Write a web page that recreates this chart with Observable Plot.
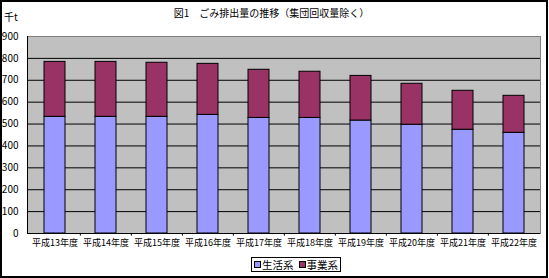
<!DOCTYPE html>
<html>
<head>
<meta charset="utf-8">
<script src="https://cdn.jsdelivr.net/npm/d3@7"></script>
<script src="https://cdn.jsdelivr.net/npm/@observablehq/plot@0.6"></script>
<style>
  html, body { margin: 0; padding: 0; background: #fff; }
  #wrap { position: relative; width: 549px; height: 278px; overflow: hidden; font-family: "Noto Sans CJK JP", "Noto Sans", sans-serif; }
  #border { position: absolute; left: 0; top: 0; width: 548px; height: 278px; box-sizing: border-box; border: 2px solid #000; pointer-events: none; }
  #title { position: absolute; left: 0; width: 543px; top: 5px; text-align: center; font-size: 10px; color: #000; }
  #unit { position: absolute; left: 4px; top: 9px; font-size: 10px; color: #000; }
  #legend { position: absolute; left: 251px; top: 257px; width: 90px; height: 15px; box-sizing: border-box; border: 1px solid #000; background: #fff; font-size: 10.5px; line-height: 13px; display: flex; align-items: center; padding-left: 2px; white-space: nowrap; }
  .sw { display: inline-block; width: 5px; height: 5px; border: 1px solid #000; margin-right: 1px; }
  .item { display: inline-flex; align-items: center; margin-right: 5px; }
</style>
</head>
<body>
<div id="wrap">
  <div id="chart"></div>
  <div id="title"></div>
  <div id="unit"></div>
  <div id="legend"></div>
  <div id="border"></div>
</div>
<script>
const titleText = "図1　ごみ排出量の推移（集団回収量除く）";
const unitText = "千t";
const categories = ["平成13年度","平成14年度","平成15年度","平成16年度","平成17年度","平成18年度","平成19年度","平成20年度","平成21年度","平成22年度"];
const seriesNames = ["生活系", "事業系"];
const seriesColors = ["#9999ff", "#993366"];
const seikatsu = [533, 533, 533, 542, 528, 528, 516, 497, 474, 460];
const jigyou   = [251, 251, 247, 233, 220, 211, 204, 187, 178, 169];
const yTicks = [0, 100, 200, 300, 400, 500, 600, 700, 800, 900];

const rows = [];
categories.forEach((c, i) => {
  rows.push({year: c, type: seriesNames[0], value: seikatsu[i]});
  rows.push({year: c, type: seriesNames[1], value: jigyou[i]});
});

const chart = Plot.plot({
  width: 549,
  height: 278,
  marginLeft: 27,
  marginRight: 9,
  marginTop: 36,
  marginBottom: 45,
  style: {fontFamily: '"Noto Sans CJK JP", sans-serif', background: "transparent", color: "#000"},
  x: {domain: categories, paddingInner: 0.59, paddingOuter: 0.295, label: null},
  y: {domain: [0, 900], label: null},
  color: {domain: seriesNames, range: seriesColors},
  marks: [
    Plot.frame({fill: "#c0c0c0", stroke: "#808080"}),
    Plot.ruleY(yTicks.filter(d => d > 0 && d < 900), {stroke: "#000", strokeWidth: 1}),
    Plot.barY(rows, {x: "year", y: "value", fill: "type", stroke: "#000", strokeWidth: 1}),
    Plot.ruleX(categories.slice(1), {x: d => d, y1: 0, y2: -12, dx: -25.65, stroke: "#000"}),
    Plot.ruleY([0], {stroke: "#000", strokeWidth: 1}),
    Plot.frame({anchor: "left", stroke: "#000"}),
    Plot.axisY({ticks: yTicks, tickSize: 0, tickPadding: 9, fontSize: 10, label: null}),
    Plot.axisX({tickSize: 0, tickPadding: 6, fontSize: 9, label: null})
  ]
});
document.getElementById("chart").appendChild(chart);
document.getElementById("title").textContent = titleText;
document.getElementById("unit").textContent = unitText;
const leg = document.getElementById("legend");
seriesNames.forEach((n, i) => {
  const it = document.createElement("span");
  it.className = "item";
  const sw = document.createElement("span");
  sw.className = "sw";
  sw.style.background = seriesColors[i];
  it.appendChild(sw);
  it.appendChild(document.createTextNode(n));
  leg.appendChild(it);
});
</script>
</body>
</html>
